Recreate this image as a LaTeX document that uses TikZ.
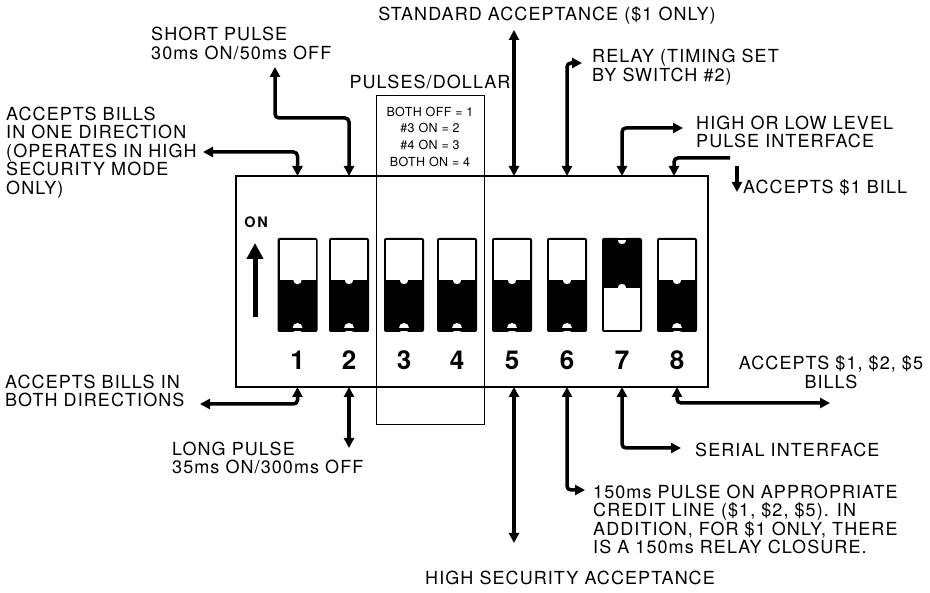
\documentclass[tikz,border=0pt]{standalone}
\usepackage{fontspec}
\setmainfont{TeX Gyre Heros}
\newfontfamily\lblf[LetterSpace=6]{TeX Gyre Heros}
\newfontfamily\smallf[LetterSpace=3]{TeX Gyre Heros}
\newfontfamily\onf[LetterSpace=12]{TeX Gyre Heros}
\usetikzlibrary{arrows.meta}
\tikzset{
  lbl/.style={font=\lblf\fontsize{18}{18.5}\selectfont, inner sep=0pt, align=left, anchor=north west},
  conn/.style={line width=3.5pt, rounded corners=4pt, {Triangle[length=10pt,width=10pt]}-{Triangle[length=10pt,width=10pt]}},
  connend/.style={line width=3.5pt, rounded corners=4pt, -{Triangle[length=10pt,width=10pt]}},
  connstart/.style={line width=3.5pt, rounded corners=4pt, {Triangle[length=10pt,width=10pt]}-},
  numlbl/.style={font=\bfseries\fontsize{26}{26}\selectfont, inner sep=0pt},
}
\newcommand{\offsw}[1]{%
  \fill[black, rounded corners=2pt] (#1-20,238) rectangle (#1+20,332);
  \fill[white] (#1-18,240) rectangle (#1+18,280);
  \fill[white] (#1,280) circle (4.2);
  \fill[white] (#1,328) circle (5);
  \fill[black] (#1-18,328) rectangle (#1+18,331);
}
\newcommand{\onsw}[1]{%
  \fill[black, rounded corners=2pt] (#1-20,238) rectangle (#1+20,332);
  \fill[white] (#1-18,288) rectangle (#1+18,330);
  \fill[white] (#1,240) circle (4.2);
  \fill[black] (#1-18,238) rectangle (#1+18,240);
  \fill[white] (#1,288) circle (4.2);
}
\begin{document}
\begin{tikzpicture}[x=1pt,y=-1pt]
\useasboundingbox (0,0) rectangle (930,593);
\fill[white] (0,0) rectangle (930,593);

% main switch body
\draw[line width=1.3pt] (236,176) rectangle (708,387);
% pulses/dollar box
\draw[line width=1pt] (376,96) rectangle (484,425);

% switches
\offsw{297.5}
\offsw{349}
\offsw{404}
\offsw{457}
\offsw{512}
\offsw{567}
\onsw{622}
\offsw{677}

% numbers
\node[numlbl] (n1) at (297.5,360) {1};
\node[numlbl] (n2) at (349,360) {2};
\node[numlbl] (n3) at (404,360) {3};
\node[numlbl] (n4) at (457,360) {4};
\node[numlbl] (n5) at (512,360) {5};
\node[numlbl] (n6) at (567,360) {6};
\node[numlbl] (n7) at (622,360) {7};
\node[numlbl] (n8) at (677,360) {8};

% ON
\node[font=\onf\bfseries\fontsize{14.5}{14.5}\selectfont, inner sep=0pt] (on) at (256,222) {ON};
\coordinate (onA) at (255,317);
\coordinate (onB) at (255,243);
\draw[line width=5pt, -{Triangle[length=16pt,width=16pt]}] (onA) -- (onB);

% coordinates on box edges
\coordinate (s1t) at (297.5,176);
\coordinate (s2t) at (349,176);
\coordinate (s5t) at (514,176);
\coordinate (s6t) at (567,176);
\coordinate (s7t) at (622,176);
\coordinate (s8t) at (674,176);
\coordinate (s1b) at (297.5,387);
\coordinate (s2b) at (349,387);
\coordinate (s5b) at (514,387);
\coordinate (s6b) at (567,387);
\coordinate (s7b) at (622,387);
\coordinate (s8b) at (677,387);

% free ends
\coordinate (e1) at (203,152);
\coordinate (e2) at (275,67);
\coordinate (e2m) at (275,118);
\coordinate (e2n) at (349,118);
\coordinate (e5) at (514,30);
\coordinate (e6) at (582,63);
\coordinate (e7) at (683,128);
\coordinate (e8) at (730,158);
\coordinate (e8a) at (737,166);
\coordinate (e8b) at (737,192);
\coordinate (f1) at (200,404);
\coordinate (f2) at (349,448);
\coordinate (f5) at (514,543);
\coordinate (f6) at (585,490);
\coordinate (f7) at (681,448);
\coordinate (f8) at (830,403);

% top connectors
\draw[conn] (e1) -| (s1t);
\draw[conn] (e2) -- (e2m) -- (e2n) -- (s2t);
\draw[conn] (e5) -- (s5t);
\draw[conn] (s6t) |- (e6);
\draw[conn] (s7t) |- (e7);
\draw[connstart] (s8t) |- (e8);
\draw[connend] (e8a) -- (e8b);

% bottom connectors
\draw[conn] (s1b) |- (f1);
\draw[conn] (s2b) -- (f2);
\draw[conn] (s5b) -- (f5);
\draw[conn] (s6b) |- (f6);
\draw[conn] (s7b) |- (f7);
\draw[conn] (s8b) |- (f8);

% labels
\node[lbl, anchor=center] (tStd) at (547,15) {STANDARD ACCEPTANCE (\$1 ONLY)};
\node[lbl] (tShort) at (151,27) {SHORT PULSE\\30ms ON/50ms OFF};
\node[lbl] (tOne) at (6,106.5) {ACCEPTS BILLS\\IN ONE DIRECTION\\(OPERATES IN HIGH\\SECURITY MODE\\ONLY)};
\node[lbl, anchor=center] (tPul) at (430,82) {PULSES/DOLLAR};
\node[font=\smallf\fontsize{12.5}{16.7}\selectfont, inner sep=0pt, align=center, anchor=north] (tTab) at (430,106.5) {BOTH OFF = 1\\\#3 ON = 2\\\#4 ON = 3\\BOTH ON = 4};
\node[lbl] (tRelay) at (592,49) {RELAY (TIMING SET\\BY SWITCH \#2)};
\node[lbl] (tHigh) at (696,115.5) {HIGH OR LOW LEVEL\\PULSE INTERFACE};
\node[lbl, anchor=west] (tOneBill) at (743,188) {ACCEPTS \$1 BILL};
\node[lbl, align=center, anchor=north] (tAll) at (831,355.5) {ACCEPTS \$1, \$2, \$5\\BILLS};
\node[lbl] (tBoth) at (5,374.5) {ACCEPTS BILLS IN\\BOTH DIRECTIONS};
\node[lbl] (tLong) at (172,441.5) {LONG PULSE\\35ms ON/300ms OFF};
\node[lbl, anchor=center] (tHSec) at (570,578) {HIGH SECURITY ACCEPTANCE};
\node[lbl, anchor=west] (tSer) at (695,450) {SERIAL INTERFACE};
\node[lbl] (t150) at (593,484.5) {150ms PULSE ON APPROPRIATE\\CREDIT LINE (\$1, \$2, \$5). IN\\ADDITION, FOR \$1 ONLY, THERE\\IS A 150ms RELAY CLOSURE.};
\end{tikzpicture}
\end{document}
